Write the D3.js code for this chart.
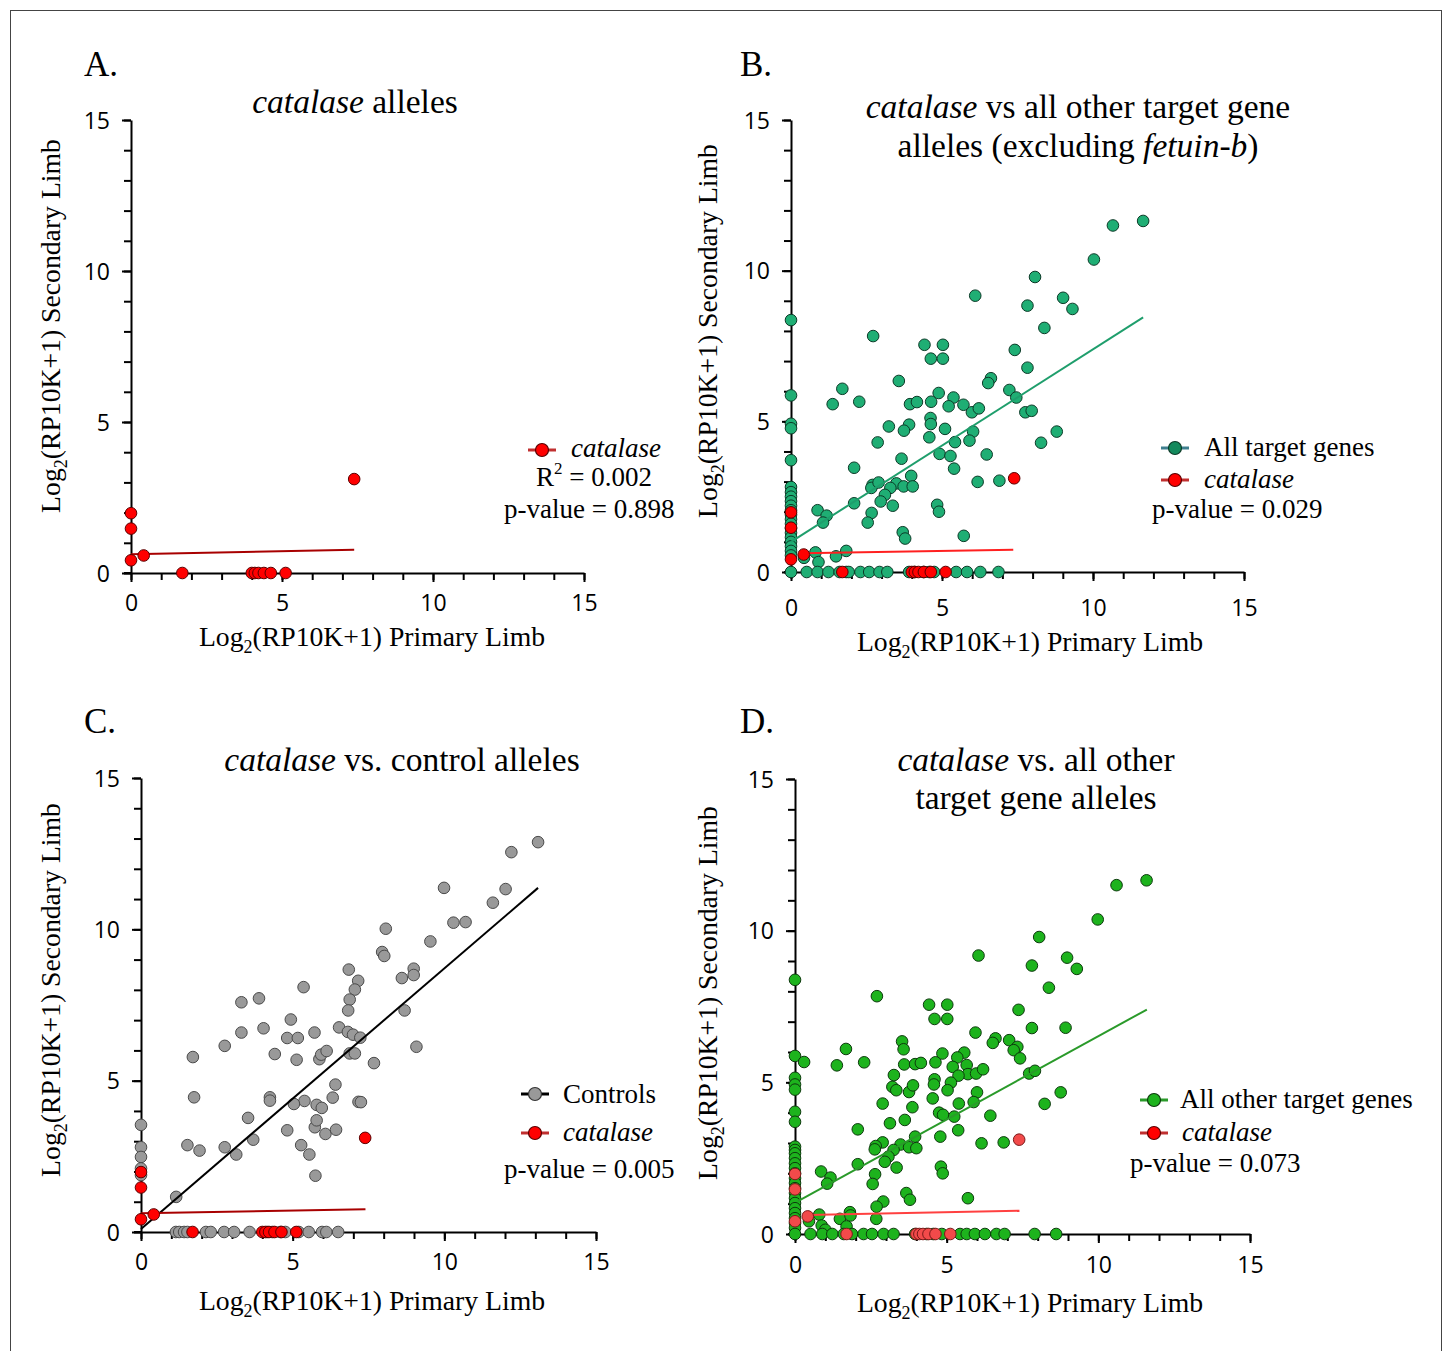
<!DOCTYPE html>
<html>
<head>
<meta charset="utf-8">
<script src="https://cdn.jsdelivr.net/npm/d3@7"></script>
<style>
  html, body { margin: 0; padding: 0; background: #fff; }
  svg { display: block; }
</style>
</head>
<body>
<svg id="chart" width="1447" height="1351"></svg>
<script>
// ---------------- DATA ----------------
const tickValuesMajor = [0, 5, 10, 15];
const tickValuesMinor = d3.range(0, 16, 1);

// catalase alleles (x = primary limb, y = secondary limb)
const catalasePoints = [
  [0, 1.98], [0, 1.47], [0, 0.42], [0.42, 0.58], [7.39, 3.11],
  [1.70, 0], [4.00, 0], [4.10, 0], [4.22, 0], [4.40, 0], [4.63, 0], [5.12, 0]
];

// all target genes excluding fetuin-b (panel B)
const targetPointsB = [
  [0, 8.36], [0, 5.86], [0, 4.92], [0, 4.77], [0, 3.71], [0, 2.82], [0, 2.65], [0, 2.5],
  [0, 2.35], [0, 2.2], [0, 2.05], [0, 1.9], [0, 1.75], [0, 1.6], [0, 1.45], [0, 1.3],
  [0, 1.15], [0, 1.0], [0, 0.85], [0, 0.7], [0, 0.55], [0, 0],
  [11.66, 11.65], [10.66, 11.5], [10.03, 10.37], [8.08, 9.79], [6.1, 9.17], [9.01, 9.1],
  [7.83, 8.84], [9.32, 8.73], [8.39, 8.1], [2.72, 7.83], [4.42, 7.54], [5.03, 7.54],
  [4.63, 7.08], [5.03, 7.08], [7.41, 7.37], [7.83, 6.78], [3.57, 6.34], [6.62, 6.43],
  [6.53, 6.27], [1.7, 6.08], [4.89, 5.94], [7.23, 6.04], [5.38, 5.79], [7.46, 5.79],
  [1.38, 5.57], [2.26, 5.65], [3.94, 5.57], [4.17, 5.64], [4.64, 5.65], [5.22, 5.5],
  [5.71, 5.55], [5.99, 5.3], [6.22, 5.43], [7.76, 5.3], [7.97, 5.35], [4.62, 5.11],
  [4.63, 4.91], [3.91, 4.89], [3.74, 4.69], [3.24, 4.83], [5.1, 4.75], [6.03, 4.66],
  [4.58, 4.47], [8.8, 4.66], [2.87, 4.3], [5.43, 4.31], [5.91, 4.36], [8.28, 4.29],
  [3.66, 3.76], [4.92, 3.92], [5.28, 3.85], [6.48, 3.9], [2.09, 3.46], [5.4, 3.43],
  [3.98, 3.19], [6.18, 2.99], [6.9, 3.03], [3.49, 2.94], [2.7, 2.89], [2.66, 2.79],
  [2.9, 2.97], [3.29, 2.79], [3.73, 2.84], [4.03, 2.84], [3.11, 2.56], [2.97, 2.34],
  [3.37, 2.2], [2.09, 2.28], [4.84, 2.23], [4.9, 2.0], [0.88, 2.05], [1.18, 1.87],
  [1.06, 1.64], [2.67, 1.96], [2.54, 1.64], [3.7, 1.32], [3.78, 1.11], [5.72, 1.2],
  [0.81, 0.65], [0.43, 0.47], [0.91, 0.33], [1.49, 0.52], [1.83, 0.7],
  [0.52, 0], [0.88, 0], [1.24, 0], [1.61, 0], [1.83, 0], [1.91, 0], [2.3, 0], [2.59, 0],
  [2.93, 0], [3.19, 0], [3.91, 0], [4.08, 0], [4.39, 0], [4.58, 0], [4.74, 0], [5.47, 0],
  [5.83, 0], [6.27, 0], [6.87, 0]
];

// control alleles (panel C)
const controlPoints = [
  [0, 3.54], [0, 2.8], [0, 2.48], [0, 2.1], [0, 1.88],
  [13.09, 12.88], [12.21, 12.55], [9.99, 11.37], [12.02, 11.33], [11.6, 10.88],
  [10.3, 10.22], [10.7, 10.24], [8.07, 10.02], [9.54, 9.6], [7.95, 9.25], [8.02, 9.12],
  [6.85, 8.67], [8.99, 8.7], [8.99, 8.49], [8.6, 8.39], [7.16, 8.3], [5.36, 8.09],
  [7.05, 8.01], [3.31, 7.59], [3.89, 7.72], [6.88, 7.68], [6.83, 7.32], [8.69, 7.32],
  [4.94, 7.02], [3.31, 6.59], [4.04, 6.73], [4.82, 6.41], [5.17, 6.41], [5.72, 6.59],
  [6.53, 6.76], [6.82, 6.61], [6.99, 6.52], [7.23, 6.42], [2.76, 6.15], [9.08, 6.12],
  [1.71, 5.78], [4.41, 5.88], [5.13, 5.69], [5.88, 5.71], [5.94, 5.86], [6.12, 5.98],
  [6.88, 5.9], [7.05, 5.9], [7.68, 5.58], [6.41, 4.87], [1.75, 4.45], [4.25, 4.45],
  [4.25, 4.34], [5.39, 4.33], [5.04, 4.23], [5.79, 4.2], [5.96, 4.1], [6.32, 4.44],
  [7.17, 4.3], [7.25, 4.29], [3.53, 3.77], [5.73, 3.46], [5.79, 3.69], [4.82, 3.36],
  [6.08, 3.24], [6.43, 3.38], [3.7, 3.05], [1.53, 2.87], [1.93, 2.69], [2.76, 2.8],
  [3.14, 2.56], [5.28, 2.87], [5.55, 2.56], [5.75, 1.86], [1.16, 1.16],
  [1.15, 0], [1.26, 0], [1.42, 0], [1.53, 0], [2.14, 0], [2.3, 0], [2.74, 0], [3.07, 0],
  [3.58, 0], [4.16, 0], [4.33, 0], [4.6, 0], [4.76, 0], [5.2, 0], [5.53, 0], [5.97, 0],
  [6.11, 0], [6.5, 0]
];

// all other target genes (panel D)
const targetPointsD = [
  [0, 8.38], [0, 5.87], [0, 5.15], [0, 4.93], [0, 4.76], [0, 4.03], [0, 3.7], [0, 2.88],
  [0, 2.77], [0, 2.66], [0, 2.5], [0, 2.33], [0, 2.17], [0, 2.0], [0, 1.84], [0, 1.68],
  [0, 1.51], [0, 1.35], [0, 1.18], [0, 1.02], [0, 0.85], [0, 0.69], [0, 0.52], [0, 0.36],
  [0, 0.2], [0, 0],
  [11.59, 11.66], [10.6, 11.5], [9.98, 10.37], [8.05, 9.79], [6.05, 9.18], [8.97, 9.11],
  [7.81, 8.85], [9.29, 8.74], [8.37, 8.12], [2.7, 7.84], [4.42, 7.56], [5.02, 7.56],
  [4.6, 7.09], [5.02, 7.09], [7.37, 7.39], [7.81, 6.79], [8.92, 6.8], [5.95, 6.64],
  [3.53, 6.35], [3.58, 6.09], [1.68, 6.1], [6.61, 6.45], [6.52, 6.3], [7.06, 6.39],
  [7.33, 6.17], [7.21, 6.06], [7.42, 5.79], [5.58, 5.98], [5.35, 5.82], [4.86, 5.95],
  [0.3, 5.67], [1.38, 5.56], [2.28, 5.66], [3.6, 5.59], [3.96, 5.6], [4.15, 5.64],
  [4.63, 5.66], [5.2, 5.51], [5.66, 5.57], [5.7, 5.27], [5.39, 5.22], [5.97, 5.29],
  [6.2, 5.43], [7.72, 5.29], [7.91, 5.38], [3.26, 5.24], [4.6, 5.1], [4.58, 4.93],
  [5.14, 4.99], [5.03, 4.74], [3.21, 4.85], [3.34, 4.74], [3.76, 4.68], [3.89, 4.9],
  [6.0, 4.67], [8.76, 4.67], [4.54, 4.47], [2.89, 4.3], [5.4, 4.3], [5.89, 4.35],
  [8.23, 4.29], [3.87, 4.18], [4.75, 4.0], [4.88, 3.93], [5.25, 3.87], [6.44, 3.9],
  [3.62, 3.76], [3.13, 3.65], [2.07, 3.45], [5.38, 3.42], [3.96, 3.21], [4.79, 3.21],
  [6.15, 2.99], [6.88, 3.02], [2.89, 3.02], [2.66, 2.9], [2.63, 2.79], [3.48, 2.95],
  [3.76, 2.86], [4.0, 2.83], [3.25, 2.77], [3.08, 2.55], [2.96, 2.38], [3.35, 2.19],
  [2.07, 2.3], [4.81, 2.22], [4.87, 2.0], [0.86, 2.06], [1.17, 1.86], [1.06, 1.66],
  [2.64, 1.97], [2.56, 1.65], [3.67, 1.35], [3.79, 1.13], [5.7, 1.18], [2.91, 1.07],
  [2.69, 0.9], [2.68, 0.5], [0.8, 0.64], [1.48, 0.5], [1.81, 0.72], [1.83, 0.61],
  [0.88, 0.28], [1.7, 0.25], [0.46, 0.42], [1.0, 0.14],
  [0.51, 0], [0.9, 0], [1.23, 0], [1.61, 0], [1.88, 0], [2.26, 0], [2.54, 0], [2.92, 0],
  [3.25, 0], [3.96, 0], [4.34, 0], [4.56, 0], [4.84, 0], [5.44, 0], [5.66, 0], [5.93, 0],
  [6.26, 0], [6.64, 0], [6.91, 0], [7.9, 0], [8.61, 0]
];

// regression lines (start and end points)
const fitCatalaseA = [[0, 0.62], [7.39, 0.77]];
const fitTargetsB = [[0, 1.0], [11.66, 8.45]];
const fitCatalaseB = [[0.36, 0.62], [7.36, 0.74]];
const fitControlsC = [[0, 0.1], [13.09, 11.37]];
const fitCatalaseC = [[0, 0.62], [7.4, 0.75]];
const fitTargetsD = [[0.1, 1.08], [11.6, 7.4]];
const fitCatalaseD = [[0.4, 0.63], [7.4, 0.77]];

// text
const panelLetters = ["A.", "B.", "C.", "D."];
const statsText = ["p-value = 0.898", "p-value = 0.029", "p-value = 0.005", "p-value = 0.073"];

// ---------------- DRAWING ----------------
const SERIF = "'Liberation Serif', 'Times New Roman', Times, serif";
const SANS = "'Open Sans', 'Noto Sans', sans-serif";
const TITLE_FS = 33.5, AXLAB_FS = 27.7, LEG_FS = 27, LETTER_FS = 35;
const svg = d3.select("#chart");

svg.append("rect").attr("x", 10.5).attr("y", 10.5).attr("width", 1431).attr("height", 1350)
  .attr("fill", "none").attr("stroke", "#444").attr("stroke-width", 1);

const panels = [
  { letter: panelLetters[0], x0: 131, x15: 584, y0: 573, y15: 120, xTickDy: 30,
    letterPos: [84, 76], title: [[{t: "catalase", i: true}, {t: " alleles"}]], titleX: 355, titleY: [113],
    ylabX: 60, ylabY: 326, xlabX: 372, xlabY: 646,
    main: null, cat: catalasePoints, fitMain: null, fitCat: fitCatalaseA },
  { letter: panelLetters[1], x0: 791, x15: 1244, y0: 572, y15: 120, xTickDy: 36,
    letterPos: [740, 76],
    title: [[{t: "catalase", i: true}, {t: " vs all other target gene"}],
            [{t: "alleles (excluding "}, {t: "fetuin-b", i: true}, {t: ")"}]],
    titleX: 1078, titleY: [118, 157],
    ylabX: 717, ylabY: 331, xlabX: 1030, xlabY: 651,
    main: targetPointsB, cat: catalasePoints, fitMain: fitTargetsB, fitCat: fitCatalaseB },
  { letter: panelLetters[2], x0: 141, x15: 596, y0: 1232, y15: 778, xTickDy: 30,
    letterPos: [84, 733],
    title: [[{t: "catalase", i: true}, {t: " vs. control alleles"}]], titleX: 402, titleY: [771],
    ylabX: 60, ylabY: 990, xlabX: 372, xlabY: 1310,
    main: controlPoints, cat: catalasePoints, fitMain: fitControlsC, fitCat: fitCatalaseC },
  { letter: panelLetters[3], x0: 795, x15: 1250, y0: 1234, y15: 779, xTickDy: 31,
    letterPos: [740, 733],
    title: [[{t: "catalase", i: true}, {t: " vs. all other"}], [{t: "target gene alleles"}]],
    titleX: 1036, titleY: [771, 809],
    ylabX: 717, ylabY: 993, xlabX: 1030, xlabY: 1312,
    main: targetPointsD, cat: catalasePoints, fitMain: fitTargetsD, fitCat: fitCatalaseD }
];

const styles = [
  { mainFill: null, catFill: "#ff0000", catStroke: "#5a0000", catLine: "#a80000" },
  { mainFill: "#1fae74", mainStroke: "#0b3a27", mainLine: "#1f9e6c", catFill: "#ff0000", catStroke: "#5a0000", catLine: "#ff2020" },
  { mainFill: "#999999", mainStroke: "#4a4a4a", mainLine: "#000000", catFill: "#ff0000", catStroke: "#5a0000", catLine: "#a80000" },
  { mainFill: "#1db31d", mainStroke: "#0d3a0d", mainLine: "#2a9a2a", catFill: "#f24a4a", catStroke: "#7a1a1a", catLine: "#ff4040" }
];

const R = 5.8;

panels.forEach((p, pi) => {
  const st = styles[pi];
  const x = d3.scaleLinear().domain([0, 15]).range([p.x0, p.x15]);
  const y = d3.scaleLinear().domain([0, 15]).range([p.y0, p.y15]);
  const g = svg.append("g");

  // panel letter
  g.append("text").attr("x", p.letterPos[0]).attr("y", p.letterPos[1])
    .attr("font-family", SERIF).attr("font-size", LETTER_FS).attr("fill", "#000").text(p.letter);

  // title
  p.title.forEach((line, li) => {
    const t = g.append("text").attr("x", p.titleX).attr("y", p.titleY[li])
      .attr("text-anchor", "middle").attr("font-family", SERIF).attr("font-size", TITLE_FS).attr("fill", "#000");
    line.forEach(seg => {
      t.append("tspan").attr("font-style", seg.i ? "italic" : "normal").text(seg.t);
    });
  });

  // axes
  const xAxisMinor = d3.axisBottom(x).tickValues(tickValuesMinor).tickSize(7).tickFormat("");
  const xAxisMajor = d3.axisBottom(x).tickValues(tickValuesMajor).tickSize(9).tickFormat(d3.format("d"));
  const yAxisMinor = d3.axisLeft(y).tickValues(tickValuesMinor).tickSize(7).tickFormat("");
  const yAxisMajor = d3.axisLeft(y).tickValues(tickValuesMajor).tickSize(9).tickFormat(d3.format("d"));

  function styleAxis(sel) {
    sel.select(".domain").attr("stroke", "#000").attr("stroke-width", 2);
    sel.selectAll(".tick line").attr("stroke", "#000").attr("stroke-width", 2);
    sel.selectAll(".tick text").attr("font-family", SANS).attr("font-size", 23).attr("fill", "#000");
  }
  const gxm = g.append("g").attr("transform", `translate(0,${p.y0})`).call(xAxisMinor);
  gxm.select(".domain").remove();
  styleAxis(gxm);
  const gx = g.append("g").attr("transform", `translate(0,${p.y0})`).call(xAxisMajor.tickSizeOuter(0));
  styleAxis(gx);
  gx.selectAll(".tick text").attr("y", p.xTickDy - 8).attr("dy", "0.71em");

  const gym = g.append("g").attr("transform", `translate(${p.x0},0)`).call(yAxisMinor);
  gym.select(".domain").remove();
  styleAxis(gym);
  const gy = g.append("g").attr("transform", `translate(${p.x0},0)`).call(yAxisMajor.tickSizeOuter(0));
  styleAxis(gy);
  gy.selectAll(".tick text").attr("x", -21).attr("dy", "0.36em");
  // extend x-axis slightly left of y-axis
  g.append("line").attr("x1", p.x0 - 7).attr("x2", p.x0).attr("y1", p.y0).attr("y2", p.y0)
    .attr("stroke", "#000").attr("stroke-width", 2);

  // axis labels
  const yl = g.append("text")
    .attr("transform", `translate(${p.ylabX},${p.ylabY}) rotate(-90)`)
    .attr("text-anchor", "middle").attr("font-family", SERIF).attr("font-size", AXLAB_FS).attr("fill", "#000");
  yl.append("tspan").text("Log");
  yl.append("tspan").attr("font-size", 18).attr("dy", 7).text("2");
  yl.append("tspan").attr("dy", -7).text("(RP10K+1) Secondary Limb");

  const xl = g.append("text").attr("x", p.xlabX).attr("y", p.xlabY)
    .attr("text-anchor", "middle").attr("font-family", SERIF).attr("font-size", AXLAB_FS).attr("fill", "#000");
  xl.append("tspan").text("Log");
  xl.append("tspan").attr("font-size", 18).attr("dy", 7).text("2");
  xl.append("tspan").attr("dy", -7).text("(RP10K+1) Primary Limb");

  const lineGen = d3.line().x(d => x(d[0])).y(d => y(d[1]));

  // main points
  if (p.main) {
    g.append("g").selectAll("circle").data(p.main).join("circle")
      .attr("cx", d => x(d[0])).attr("cy", d => y(d[1])).attr("r", R)
      .attr("fill", st.mainFill).attr("stroke", st.mainStroke).attr("stroke-width", 1);
    g.append("path").datum(p.fitMain).attr("d", lineGen)
      .attr("fill", "none").attr("stroke", st.mainLine).attr("stroke-width", 2);
  }
  // catalase line and points
  g.append("path").datum(p.fitCat).attr("d", lineGen)
    .attr("fill", "none").attr("stroke", st.catLine).attr("stroke-width", 2);
  g.append("g").selectAll("circle").data(p.cat).join("circle")
    .attr("cx", d => x(d[0])).attr("cy", d => y(d[1])).attr("r", R)
    .attr("fill", st.catFill).attr("stroke", st.catStroke).attr("stroke-width", 1);
});

// ---------------- LEGENDS ----------------
function legendMarker(cx, cy, lineColor, fill, stroke) {
  svg.append("line").attr("x1", cx - 14).attr("x2", cx + 14).attr("y1", cy).attr("y2", cy)
    .attr("stroke", lineColor).attr("stroke-width", 3);
  svg.append("circle").attr("cx", cx).attr("cy", cy).attr("r", 6.5)
    .attr("fill", fill).attr("stroke", stroke).attr("stroke-width", 1.2);
}
function legendText(x, y, segs, anchor) {
  const t = svg.append("text").attr("x", x).attr("y", y).attr("font-family", SERIF)
    .attr("font-size", LEG_FS).attr("fill", "#000").attr("text-anchor", anchor || "start");
  segs.forEach(s => {
    const ts = t.append("tspan").text(s.t);
    if (s.i) ts.attr("font-style", "italic");
    if (s.sup) ts.attr("font-size", 17).attr("dy", -12);
    if (s.after) ts.attr("dy", 12);
  });
}

// A
legendMarker(542, 450, "#c03030", "#ff0000", "#5a0000");
legendText(571, 457, [{t: "catalase", i: true}]);
legendText(536, 486, [{t: "R"}, {t: "2", sup: true}, {t: " = 0.002", after: true}]);
legendText(504, 518, [{t: statsText[0]}]);

// B
legendMarker(1175, 448, "#3f7f8f", "#13895c", "#0b3a27");
legendText(1204, 456, [{t: "All target genes"}]);
legendMarker(1175, 480, "#c03030", "#ff0000", "#5a0000");
legendText(1204, 488, [{t: "catalase", i: true}]);
legendText(1152, 518, [{t: statsText[1]}]);

// C
legendMarker(535, 1094, "#000000", "#999999", "#333333");
legendText(563, 1103, [{t: "Controls"}]);
legendMarker(535, 1133, "#c03030", "#ff0000", "#5a0000");
legendText(563, 1141, [{t: "catalase", i: true}]);
legendText(504, 1178, [{t: statsText[2]}]);

// D
legendMarker(1154, 1100, "#2a9a2a", "#1db31d", "#0d3a0d");
legendText(1180, 1108, [{t: "All other target genes"}]);
legendMarker(1154, 1133, "#c03030", "#ff0000", "#5a0000");
legendText(1182, 1141, [{t: "catalase", i: true}]);
legendText(1130, 1172, [{t: statsText[3]}]);
</script>
</body>
</html>
